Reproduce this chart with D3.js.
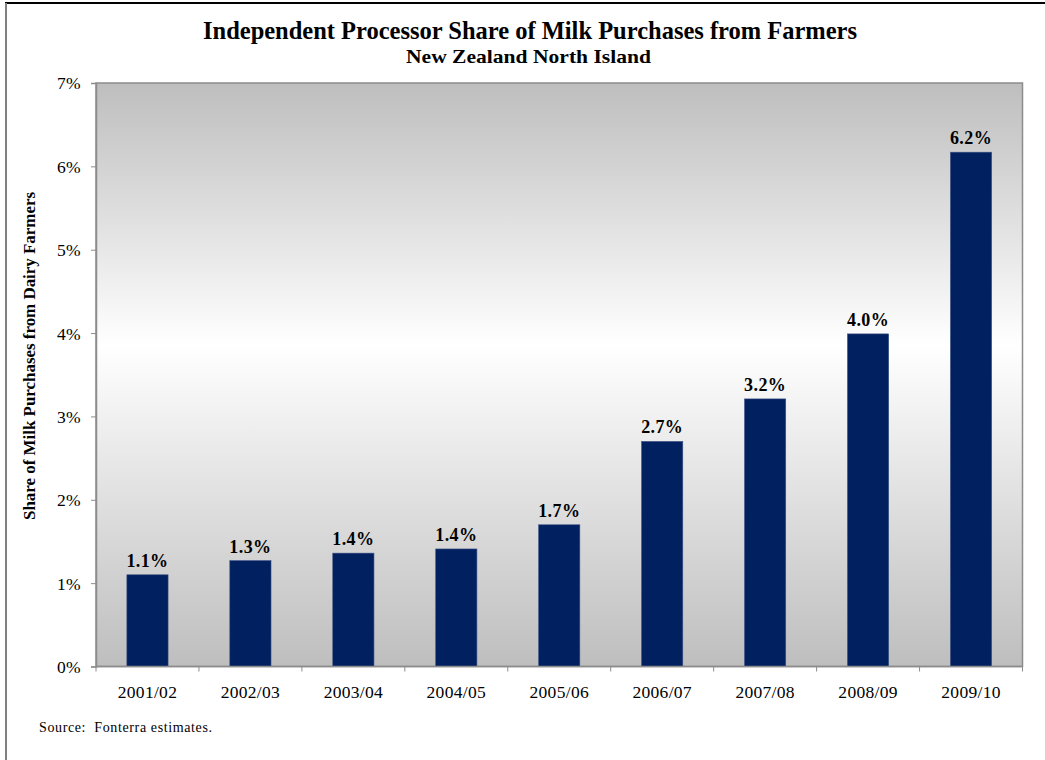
<!DOCTYPE html>
<html>
<head>
<meta charset="utf-8">
<script src="https://cdn.jsdelivr.net/npm/d3@7"></script>
<style>
  html, body { margin: 0; padding: 0; background: #fff; }
  svg { display: block; }
  text { font-family: "Liberation Serif", "Times New Roman", serif; fill: #000; }
</style>
</head>
<body>
<svg id="chart" width="1045" height="760"></svg>
<script>
// Marketing seasons and independent processors' share (%) of milk bought from farmers
const seasons = ["2001/02", "2002/03", "2003/04", "2004/05", "2005/06", "2006/07", "2007/08", "2008/09", "2009/10"];
const shares = [1.10, 1.27, 1.36, 1.41, 1.70, 2.70, 3.21, 3.99, 6.17];
const yTicks = [0, 1, 2, 3, 4, 5, 6, 7];

const titleText = "Independent Processor Share of Milk Purchases from Farmers";
const subtitleText = "New Zealand North Island";
const yAxisTitle = "Share of Milk Purchases from Dairy Farmers";
const sourceNote = "Source:  Fonterra estimates.";

const svg = d3.select("#chart");
const plot = { left: 96, top: 83, right: 1022.5, bottom: 666.5 };

const x = d3.scaleBand()
  .domain(seasons)
  .range([plot.left, plot.right])
  .paddingInner(0.6)
  .paddingOuter(0.3);

const y = d3.scaleLinear()
  .domain([0, 7])
  .range([plot.bottom, plot.top]);

// Page frame
svg.append("line").attr("x1", 5).attr("x2", 1045).attr("y1", 3).attr("y2", 3)
  .attr("stroke", "#000").attr("stroke-width", 2);
svg.append("line").attr("x1", 6).attr("x2", 6).attr("y1", 3).attr("y2", 760)
  .attr("stroke", "#808080").attr("stroke-width", 2);

// Plot background gradient: grey at the edges, white in the middle
const defs = svg.append("defs");
const grad = defs.append("linearGradient").attr("id", "plotBg")
  .attr("x1", 0).attr("y1", 0).attr("x2", 0).attr("y2", 1);
grad.append("stop").attr("offset", "0%").attr("stop-color", "#bebebe");
grad.append("stop").attr("offset", "45%").attr("stop-color", "#ffffff");
grad.append("stop").attr("offset", "100%").attr("stop-color", "#bebebe");

svg.append("rect")
  .attr("x", plot.left).attr("y", plot.top)
  .attr("width", plot.right - plot.left).attr("height", plot.bottom - plot.top)
  .attr("fill", "url(#plotBg)")
  .attr("stroke", "#8c8c8c").attr("stroke-width", 1.5);

// Bars
svg.append("g").selectAll("rect")
  .data(seasons.map((s, i) => ({ season: s, value: shares[i] })))
  .join("rect")
  .attr("x", d => x(d.season))
  .attr("y", d => y(d.value))
  .attr("width", x.bandwidth())
  .attr("height", d => y(0) - y(d.value))
  .attr("fill", "#00205f")
  .attr("stroke", "#3a4f86")
  .attr("stroke-width", 0.6);

// Value labels
svg.append("g").selectAll("text")
  .data(seasons.map((s, i) => ({ season: s, value: shares[i] })))
  .join("text")
  .attr("x", d => x(d.season) + x.bandwidth() / 2)
  .attr("y", d => y(d.value) - 8)
  .attr("text-anchor", "middle")
  .attr("font-size", "18px")
  .attr("font-weight", "bold")
  .attr("letter-spacing", "0.4px")
  .text(d => d3.format(".1f")(d.value) + "%");

// Y axis
const yAxis = svg.append("g")
  .attr("transform", `translate(${plot.left},0)`)
  .call(d3.axisLeft(y).tickValues(yTicks).tickSize(5).tickPadding(10)
    .tickFormat(d => d + "%"));
yAxis.select(".domain").attr("stroke", "#8c8c8c").attr("stroke-width", 1.5);
yAxis.selectAll(".tick line").attr("stroke", "#8c8c8c");
yAxis.selectAll(".tick text")
  .attr("font-size", "17.5px").attr("fill", "#000")
  .attr("letter-spacing", "0.3px")
  .attr("dy", "0.34em");

// X axis: tick marks sit on the category boundaries
const step = x.step();
const boundaries = d3.range(seasons.length + 1).map(i => plot.left + i * step);
const xAxis = svg.append("g");
xAxis.append("line")
  .attr("x1", plot.left).attr("x2", plot.right)
  .attr("y1", plot.bottom).attr("y2", plot.bottom)
  .attr("stroke", "#8c8c8c").attr("stroke-width", 1.5);
xAxis.selectAll("line.tick").data(boundaries).join("line")
  .attr("class", "tick")
  .attr("x1", d => d).attr("x2", d => d)
  .attr("y1", plot.bottom).attr("y2", plot.bottom + 5)
  .attr("stroke", "#8c8c8c");
xAxis.selectAll("text").data(seasons).join("text")
  .attr("x", d => x(d) + x.bandwidth() / 2)
  .attr("y", 698)
  .attr("text-anchor", "middle")
  .attr("font-size", "17.5px")
  .attr("letter-spacing", "0.3px")
  .text(d => d);

// Titles
svg.append("text")
  .attr("x", 530).attr("y", 39)
  .attr("text-anchor", "middle")
  .attr("font-size", "25px").attr("font-weight", "bold")
  .attr("textLength", 654).attr("lengthAdjust", "spacingAndGlyphs")
  .text(titleText);
svg.append("text")
  .attr("x", 528.5).attr("y", 63)
  .attr("text-anchor", "middle")
  .attr("font-size", "19px").attr("font-weight", "bold")
  .attr("textLength", 245).attr("lengthAdjust", "spacingAndGlyphs")
  .text(subtitleText);

// Y axis title
svg.append("text")
  .attr("transform", "translate(35,356) rotate(-90)")
  .attr("text-anchor", "middle")
  .attr("font-size", "16px").attr("font-weight", "bold")
  .attr("textLength", 328).attr("lengthAdjust", "spacingAndGlyphs")
  .text(yAxisTitle);

// Source note
svg.append("text")
  .attr("x", 39).attr("y", 732)
  .attr("font-size", "14px")
  .attr("textLength", 173).attr("lengthAdjust", "spacing")
  .style("white-space", "pre")
  .text(sourceNote);
</script>
</body>
</html>
